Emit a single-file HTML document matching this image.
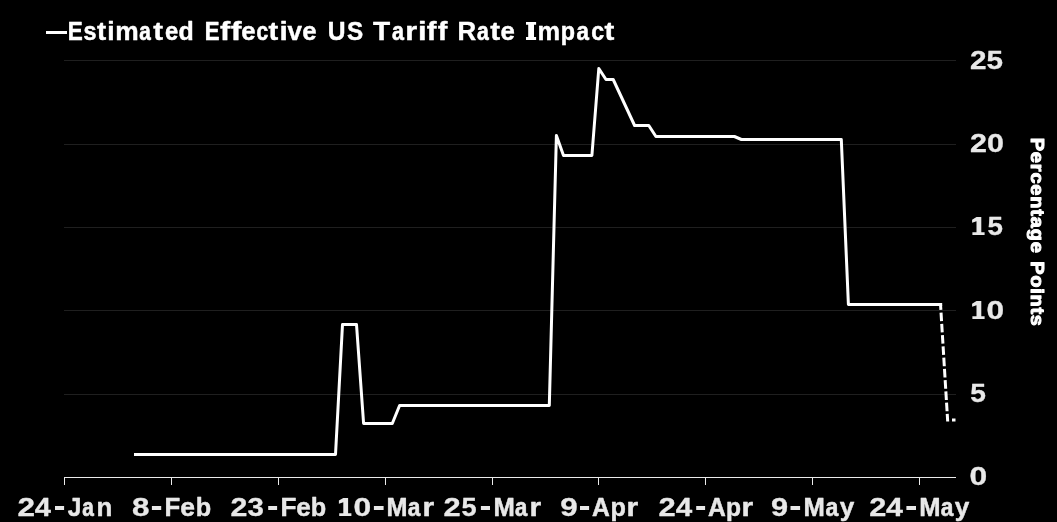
<!DOCTYPE html>
<html lang="en">
<head>
<meta charset="utf-8">
<title>Estimated Effective US Tariff Rate Impact</title>
<style>
html,body{margin:0;padding:0;background:#000;overflow:hidden;}
body{width:1057px;height:522px;font-family:"Liberation Sans",sans-serif;}
svg{display:block;position:absolute;left:0;top:0;filter:grayscale(1);}
text{font-family:"Liberation Sans",sans-serif;font-weight:bold;}
</style>
</head>
<body>
<svg width="1057" height="522" viewBox="0 0 1057 522" role="img" aria-label="Line chart: Estimated Effective US Tariff Rate Impact, in percentage points, 24-Jan to 24-May">
<desc>Estimated Effective US Tariff Rate Impact. Y axis: Percentage Points, 0 to 25. X axis: 24-Jan, 8-Feb, 23-Feb, 10-Mar, 25-Mar, 9-Apr, 24-Apr, 9-May, 24-May. The final segment is a dashed projection.</desc>
<rect x="0" y="0" width="1057" height="522" fill="#000000"/>

<!-- horizontal gridlines -->
<g stroke="#1f1f1f" stroke-width="1" shape-rendering="crispEdges">
<line x1="64" y1="60.5" x2="956" y2="60.5"/>
<line x1="64" y1="144.5" x2="956" y2="144.5"/>
<line x1="64" y1="227.5" x2="956" y2="227.5"/>
<line x1="64" y1="310.5" x2="956" y2="310.5"/>
<line x1="64" y1="394.5" x2="956" y2="394.5"/>
</g>

<!-- x axis and ticks -->
<g stroke="#ebebeb" stroke-width="1" shape-rendering="crispEdges">
<line x1="64" y1="477.5" x2="956" y2="477.5"/>
<line x1="64.5" y1="477" x2="64.5" y2="485"/>
<line x1="171.5" y1="477" x2="171.5" y2="485"/>
<line x1="278.5" y1="477" x2="278.5" y2="485"/>
<line x1="385.5" y1="477" x2="385.5" y2="485"/>
<line x1="492.5" y1="477" x2="492.5" y2="485"/>
<line x1="598.5" y1="477" x2="598.5" y2="485"/>
<line x1="705.5" y1="477" x2="705.5" y2="485"/>
<line x1="812.5" y1="477" x2="812.5" y2="485"/>
<line x1="919.5" y1="477" x2="919.5" y2="485"/>
</g>

<!-- data line -->
<polyline fill="none" stroke="#ffffff" stroke-width="3" stroke-linejoin="round" stroke-linecap="butt"
points="134,454.5 335.5,454.5 342.5,324.5 356.5,324.5 363.6,423.5 392.3,423.5 399.6,405.5 549.3,405.5 556.4,135.5 563.5,155.5 591.9,155.5 598.8,68.5 606,79.5 613.2,79.5 634.6,125.5 648.8,125.5 655.9,136.5 734.4,136.5 741.4,139.5 841.3,139.5 848.4,304.5 942.2,304.5"/>
<!-- projected (dashed) -->
<line x1="940.5" y1="304" x2="947.7" y2="421.5" stroke="#ffffff" stroke-width="3" stroke-dasharray="8.6 2.68" stroke-dashoffset="2.66"/>
<rect x="952" y="418.5" width="3.5" height="3" fill="#ffffff"/>

<!-- legend -->
<rect x="46" y="31" width="21" height="3" fill="#ffffff"/>
<g aria-label="Estimated Effective US Tariff Rate Impact">
<text transform="translate(67.79,39.70) scale(0.8853,1.0000)" font-size="25.4" fill="#ffffff" stroke="#ffffff" stroke-width="0.56" stroke-linejoin="round">E</text>
<text transform="translate(83.52,39.70) scale(0.9211,1.0000)" font-size="25.4" fill="#ffffff" stroke="#ffffff" stroke-width="0.51" stroke-linejoin="round">s</text>
<text transform="translate(96.94,39.70) scale(1.0877,1.0000)" font-size="25.4" fill="#ffffff" stroke="#ffffff" stroke-width="0.4" stroke-linejoin="round">t</text>
<text transform="translate(107.35,39.70) scale(1.0447,1.0000)" font-size="25.4" fill="#ffffff" stroke="#ffffff" stroke-width="0.4" stroke-linejoin="round">i</text>
<text transform="translate(115.19,39.70) scale(1.0388,1.0000)" font-size="25.4" fill="#ffffff" stroke="#ffffff" stroke-width="0.4" stroke-linejoin="round">m</text>
<text transform="translate(139.25,39.70) scale(0.8153,1.0000)" font-size="25.4" fill="#ffffff" stroke="#ffffff" stroke-width="0.66" stroke-linejoin="round">a</text>
<text transform="translate(153.34,39.70) scale(1.1603,1.0000)" font-size="25.4" fill="#ffffff" stroke="#ffffff" stroke-width="0.4" stroke-linejoin="round">t</text>
<text transform="translate(164.88,39.70) scale(0.9383,1.0000)" font-size="25.4" fill="#ffffff" stroke="#ffffff" stroke-width="0.49" stroke-linejoin="round">e</text>
<text transform="translate(178.61,39.70) scale(0.9806,1.0000)" font-size="25.4" fill="#ffffff" stroke="#ffffff" stroke-width="0.43" stroke-linejoin="round">d</text>
<text transform="translate(204.82,39.70) scale(0.8707,1.0000)" font-size="25.4" fill="#ffffff" stroke="#ffffff" stroke-width="0.58" stroke-linejoin="round">E</text>
<text transform="translate(220.08,39.70) scale(1.2078,1.0000)" font-size="25.4" fill="#ffffff" stroke="#ffffff" stroke-width="0.4" stroke-linejoin="round">f</text>
<text transform="translate(230.77,39.70) scale(1.2664,1.0000)" font-size="25.4" fill="#ffffff" stroke="#ffffff" stroke-width="0.4" stroke-linejoin="round">f</text>
<text transform="translate(241.17,39.70) scale(1.0165,1.0000)" font-size="25.4" fill="#ffffff" stroke="#ffffff" stroke-width="0.4" stroke-linejoin="round">e</text>
<text transform="translate(256.53,39.70) scale(0.8257,1.0000)" font-size="25.4" fill="#ffffff" stroke="#ffffff" stroke-width="0.64" stroke-linejoin="round">c</text>
<text transform="translate(268.44,39.70) scale(1.1482,1.0000)" font-size="25.4" fill="#ffffff" stroke="#ffffff" stroke-width="0.4" stroke-linejoin="round">t</text>
<text transform="translate(279.55,39.70) scale(1.1752,1.0000)" font-size="25.4" fill="#ffffff" stroke="#ffffff" stroke-width="0.4" stroke-linejoin="round">i</text>
<text transform="translate(287.47,39.70) scale(1.0251,1.0000)" font-size="25.4" fill="#ffffff" stroke="#ffffff" stroke-width="0.4" stroke-linejoin="round">v</text>
<text transform="translate(302.27,39.70) scale(1.0165,1.0000)" font-size="25.4" fill="#ffffff" stroke="#ffffff" stroke-width="0.4" stroke-linejoin="round">e</text>
<text transform="translate(327.64,39.70) scale(0.9694,1.0000)" font-size="25.4" fill="#ffffff" stroke="#ffffff" stroke-width="0.44" stroke-linejoin="round">U</text>
<text transform="translate(346.89,39.70) scale(0.9554,1.0000)" font-size="25.4" fill="#ffffff" stroke="#ffffff" stroke-width="0.46" stroke-linejoin="round">S</text>
<text transform="translate(372.94,39.70) scale(1.1049,1.0000)" font-size="25.4" fill="#ffffff" stroke="#ffffff" stroke-width="0.4" stroke-linejoin="round">T</text>
<text transform="translate(392.01,39.70) scale(0.8478,1.0000)" font-size="25.4" fill="#ffffff" stroke="#ffffff" stroke-width="0.61" stroke-linejoin="round">a</text>
<text transform="translate(405.35,39.70) scale(1.2086,1.0000)" font-size="25.4" fill="#ffffff" stroke="#ffffff" stroke-width="0.4" stroke-linejoin="round">r</text>
<text transform="translate(417.96,39.70) scale(1.2275,1.0000)" font-size="25.4" fill="#ffffff" stroke="#ffffff" stroke-width="0.4" stroke-linejoin="round">i</text>
<text transform="translate(426.69,39.70) scale(1.1492,1.0000)" font-size="25.4" fill="#ffffff" stroke="#ffffff" stroke-width="0.4" stroke-linejoin="round">f</text>
<text transform="translate(437.79,39.70) scale(1.1374,1.0000)" font-size="25.4" fill="#ffffff" stroke="#ffffff" stroke-width="0.4" stroke-linejoin="round">f</text>
<text transform="translate(457.42,39.70) scale(1.0194,1.0000)" font-size="25.4" fill="#ffffff" stroke="#ffffff" stroke-width="0.4" stroke-linejoin="round">R</text>
<text transform="translate(476.93,39.70) scale(0.8312,1.0000)" font-size="25.4" fill="#ffffff" stroke="#ffffff" stroke-width="0.64" stroke-linejoin="round">a</text>
<text transform="translate(490.24,39.70) scale(1.1603,1.0000)" font-size="25.4" fill="#ffffff" stroke="#ffffff" stroke-width="0.4" stroke-linejoin="round">t</text>
<text transform="translate(500.57,39.70) scale(1.0165,1.0000)" font-size="25.4" fill="#ffffff" stroke="#ffffff" stroke-width="0.4" stroke-linejoin="round">e</text>
<text transform="translate(537.44,39.70) scale(1.0035,1.0000)" font-size="25.4" fill="#ffffff" stroke="#ffffff" stroke-width="0.4" stroke-linejoin="round">m</text>
<text transform="translate(560.77,39.70) scale(0.9185,1.0000)" font-size="25.4" fill="#ffffff" stroke="#ffffff" stroke-width="0.51" stroke-linejoin="round">p</text>
<text transform="translate(576.58,39.70) scale(0.8799,1.0000)" font-size="25.4" fill="#ffffff" stroke="#ffffff" stroke-width="0.57" stroke-linejoin="round">a</text>
<text transform="translate(591.21,39.70) scale(0.9113,1.0000)" font-size="25.4" fill="#ffffff" stroke="#ffffff" stroke-width="0.52" stroke-linejoin="round">c</text>
<text transform="translate(604.54,39.70) scale(1.1603,1.0000)" font-size="25.4" fill="#ffffff" stroke="#ffffff" stroke-width="0.4" stroke-linejoin="round">t</text>
</g>

<!-- y labels -->
<g aria-label="25 20 15 10 5 0">
<text transform="translate(970.04,68.80) scale(1.1725,1.0000)" font-size="25.3" fill="#e8e8e8" stroke="#e8e8e8" stroke-width="0.3" stroke-linejoin="round">25</text>
<text transform="translate(970.01,151.80) scale(1.2044,1.0000)" font-size="25.3" fill="#e8e8e8" stroke="#e8e8e8" stroke-width="0.3" stroke-linejoin="round">20</text>
<text transform="translate(987.53,234.80) scale(1.0965,1.0000)" font-size="25.3" fill="#e8e8e8" stroke="#e8e8e8" stroke-width="0.3" stroke-linejoin="round">5</text>
<text transform="translate(986.52,318.80) scale(1.2503,1.0000)" font-size="25.3" fill="#e8e8e8" stroke="#e8e8e8" stroke-width="0.3" stroke-linejoin="round">0</text>
<text transform="translate(970.22,401.80) scale(1.1120,1.0000)" font-size="25.3" fill="#e8e8e8" stroke="#e8e8e8" stroke-width="0.3" stroke-linejoin="round">5</text>
<text transform="translate(969.52,484.80) scale(1.2584,1.0000)" font-size="25.3" fill="#e8e8e8" stroke="#e8e8e8" stroke-width="0.3" stroke-linejoin="round">0</text>
</g>

<!-- x labels -->
<g aria-label="24-Jan 8-Feb 23-Feb 10-Mar 25-Mar 9-Apr 24-Apr 9-May 24-May">
<text transform="translate(17.58,515.70) scale(1.2456,1.0000)" font-size="25.3" fill="#e8e8e8" stroke="#e8e8e8" stroke-width="0.3" stroke-linejoin="round">2</text>
<text transform="translate(34.74,515.70) scale(1.1492,1.0000)" font-size="25.3" fill="#e8e8e8" stroke="#e8e8e8" stroke-width="0.3" stroke-linejoin="round">4</text>
<rect x="55.00" y="506" width="9.10" height="4" fill="#e8e8e8"/>
<text transform="translate(67.87,515.70) scale(0.9666,1.0000)" font-size="25.3" fill="#e8e8e8" stroke="#e8e8e8" stroke-width="0.5" stroke-linejoin="round">J</text>
<text transform="translate(82.36,515.70) scale(0.8233,1.0000)" font-size="25.3" fill="#e8e8e8" stroke="#e8e8e8" stroke-width="0.7" stroke-linejoin="round">a</text>
<text transform="translate(96.45,515.70) scale(1.0220,1.0000)" font-size="25.3" fill="#e8e8e8" stroke="#e8e8e8" stroke-width="0.45" stroke-linejoin="round">n</text>
<text transform="translate(132.04,515.70) scale(1.2399,1.0000)" font-size="25.3" fill="#e8e8e8" stroke="#e8e8e8" stroke-width="0.3" stroke-linejoin="round">8</text>
<rect x="151.90" y="506" width="9.30" height="4" fill="#e8e8e8"/>
<text transform="translate(164.45,515.70) scale(1.0185,1.0000)" font-size="25.3" fill="#e8e8e8" stroke="#e8e8e8" stroke-width="0.45" stroke-linejoin="round">F</text>
<text transform="translate(180.18,515.70) scale(1.0481,1.0000)" font-size="25.3" fill="#e8e8e8" stroke="#e8e8e8" stroke-width="0.45" stroke-linejoin="round">e</text>
<text transform="translate(195.68,515.70) scale(0.9980,1.0000)" font-size="25.3" fill="#e8e8e8" stroke="#e8e8e8" stroke-width="0.45" stroke-linejoin="round">b</text>
<text transform="translate(230.62,515.70) scale(1.1974,1.0000)" font-size="25.3" fill="#e8e8e8" stroke="#e8e8e8" stroke-width="0.3" stroke-linejoin="round">2</text>
<text transform="translate(247.54,515.70) scale(1.1619,1.0000)" font-size="25.3" fill="#e8e8e8" stroke="#e8e8e8" stroke-width="0.3" stroke-linejoin="round">3</text>
<rect x="268.20" y="506" width="8.90" height="4" fill="#e8e8e8"/>
<text transform="translate(280.43,515.70) scale(1.0335,1.0000)" font-size="25.3" fill="#e8e8e8" stroke="#e8e8e8" stroke-width="0.45" stroke-linejoin="round">F</text>
<text transform="translate(296.29,515.70) scale(1.0322,1.0000)" font-size="25.3" fill="#e8e8e8" stroke="#e8e8e8" stroke-width="0.45" stroke-linejoin="round">e</text>
<text transform="translate(310.68,515.70) scale(0.9980,1.0000)" font-size="25.3" fill="#e8e8e8" stroke="#e8e8e8" stroke-width="0.45" stroke-linejoin="round">b</text>
<text transform="translate(353.42,515.70) scale(1.2584,1.0000)" font-size="25.3" fill="#e8e8e8" stroke="#e8e8e8" stroke-width="0.3" stroke-linejoin="round">0</text>
<rect x="373.90" y="506" width="9.70" height="4" fill="#e8e8e8"/>
<text transform="translate(386.59,515.70) scale(0.9961,1.0000)" font-size="25.3" fill="#e8e8e8" stroke="#e8e8e8" stroke-width="0.46" stroke-linejoin="round">M</text>
<text transform="translate(407.68,515.70) scale(0.8968,1.0000)" font-size="25.3" fill="#e8e8e8" stroke="#e8e8e8" stroke-width="0.59" stroke-linejoin="round">a</text>
<text transform="translate(422.52,515.70) scale(1.1817,1.0000)" font-size="25.3" fill="#e8e8e8" stroke="#e8e8e8" stroke-width="0.45" stroke-linejoin="round">r</text>
<text transform="translate(443.55,515.70) scale(1.2175,1.0000)" font-size="25.3" fill="#e8e8e8" stroke="#e8e8e8" stroke-width="0.3" stroke-linejoin="round">2</text>
<text transform="translate(461.45,515.70) scale(1.0734,1.0000)" font-size="25.3" fill="#e8e8e8" stroke="#e8e8e8" stroke-width="0.3" stroke-linejoin="round">5</text>
<rect x="480.90" y="506" width="9.10" height="4" fill="#e8e8e8"/>
<text transform="translate(493.46,515.70) scale(1.0132,1.0000)" font-size="25.3" fill="#e8e8e8" stroke="#e8e8e8" stroke-width="0.45" stroke-linejoin="round">M</text>
<text transform="translate(514.91,515.70) scale(0.8719,1.0000)" font-size="25.3" fill="#e8e8e8" stroke="#e8e8e8" stroke-width="0.63" stroke-linejoin="round">a</text>
<text transform="translate(529.42,515.70) scale(1.1817,1.0000)" font-size="25.3" fill="#e8e8e8" stroke="#e8e8e8" stroke-width="0.45" stroke-linejoin="round">r</text>
<text transform="translate(560.19,515.70) scale(1.2410,1.0000)" font-size="25.3" fill="#e8e8e8" stroke="#e8e8e8" stroke-width="0.3" stroke-linejoin="round">9</text>
<rect x="580.00" y="506" width="9.10" height="4" fill="#e8e8e8"/>
<text transform="translate(591.92,515.70) scale(0.9747,1.0000)" font-size="25.3" fill="#e8e8e8" stroke="#e8e8e8" stroke-width="0.49" stroke-linejoin="round">A</text>
<text transform="translate(610.48,515.70) scale(0.9980,1.0000)" font-size="25.3" fill="#e8e8e8" stroke="#e8e8e8" stroke-width="0.45" stroke-linejoin="round">p</text>
<text transform="translate(626.52,515.70) scale(1.1817,1.0000)" font-size="25.3" fill="#e8e8e8" stroke="#e8e8e8" stroke-width="0.45" stroke-linejoin="round">r</text>
<text transform="translate(658.60,515.70) scale(1.2215,1.0000)" font-size="25.3" fill="#e8e8e8" stroke="#e8e8e8" stroke-width="0.3" stroke-linejoin="round">2</text>
<text transform="translate(675.63,515.70) scale(1.1709,1.0000)" font-size="25.3" fill="#e8e8e8" stroke="#e8e8e8" stroke-width="0.3" stroke-linejoin="round">4</text>
<rect x="696.20" y="506" width="8.90" height="4" fill="#e8e8e8"/>
<text transform="translate(707.92,515.70) scale(0.9747,1.0000)" font-size="25.3" fill="#e8e8e8" stroke="#e8e8e8" stroke-width="0.49" stroke-linejoin="round">A</text>
<text transform="translate(725.94,515.70) scale(0.9724,1.0000)" font-size="25.3" fill="#e8e8e8" stroke="#e8e8e8" stroke-width="0.49" stroke-linejoin="round">p</text>
<text transform="translate(741.42,515.70) scale(1.1817,1.0000)" font-size="25.3" fill="#e8e8e8" stroke="#e8e8e8" stroke-width="0.45" stroke-linejoin="round">r</text>
<text transform="translate(771.10,515.70) scale(1.2171,1.0000)" font-size="25.3" fill="#e8e8e8" stroke="#e8e8e8" stroke-width="0.3" stroke-linejoin="round">9</text>
<rect x="790.50" y="506" width="9.60" height="4" fill="#e8e8e8"/>
<text transform="translate(803.46,515.70) scale(1.0132,1.0000)" font-size="25.3" fill="#e8e8e8" stroke="#e8e8e8" stroke-width="0.45" stroke-linejoin="round">M</text>
<text transform="translate(825.47,515.70) scale(0.9129,1.0000)" font-size="25.3" fill="#e8e8e8" stroke="#e8e8e8" stroke-width="0.57" stroke-linejoin="round">a</text>
<text transform="translate(839.67,515.70) scale(1.0346,1.0000)" font-size="25.3" fill="#e8e8e8" stroke="#e8e8e8" stroke-width="0.45" stroke-linejoin="round">y</text>
<text transform="translate(869.31,515.70) scale(1.2134,1.0000)" font-size="25.3" fill="#e8e8e8" stroke="#e8e8e8" stroke-width="0.3" stroke-linejoin="round">2</text>
<text transform="translate(886.12,515.70) scale(1.1998,1.0000)" font-size="25.3" fill="#e8e8e8" stroke="#e8e8e8" stroke-width="0.3" stroke-linejoin="round">4</text>
<rect x="906.40" y="506" width="9.60" height="4" fill="#e8e8e8"/>
<text transform="translate(919.32,515.70) scale(1.0105,1.0000)" font-size="25.3" fill="#e8e8e8" stroke="#e8e8e8" stroke-width="0.45" stroke-linejoin="round">M</text>
<text transform="translate(940.68,515.70) scale(0.8968,1.0000)" font-size="25.3" fill="#e8e8e8" stroke="#e8e8e8" stroke-width="0.59" stroke-linejoin="round">a</text>
<text transform="translate(954.67,515.70) scale(1.0346,1.0000)" font-size="25.3" fill="#e8e8e8" stroke="#e8e8e8" stroke-width="0.45" stroke-linejoin="round">y</text>
</g>

<!-- custom glyphs -->
<g>
<path transform="translate(972.10,235.00)" d="M4.4,-18 L9.2,-18 L9.2,-2.7 L12.5,-2.7 L12.5,0 L0.3,0 L0.3,-2.7 L4.4,-2.7 L4.4,-13.7 L0,-12.2 L0,-15.3 Z" fill="#e8e8e8"/>
<path transform="translate(972.10,319.00)" d="M4.4,-18 L9.2,-18 L9.2,-2.7 L12.5,-2.7 L12.5,0 L0.3,0 L0.3,-2.7 L4.4,-2.7 L4.4,-13.7 L0,-12.2 L0,-15.3 Z" fill="#e8e8e8"/>
<path transform="translate(338.90,515.90)" d="M4.4,-18 L9.2,-18 L9.2,-2.7 L12.5,-2.7 L12.5,0 L0.3,0 L0.3,-2.7 L4.4,-2.7 L4.4,-13.7 L0,-12.2 L0,-15.3 Z" fill="#e8e8e8"/>
<path d="M526,22 H536.1 V24.8 H534 V37.1 H536.1 V39.9 H526 V37.1 H528.2 V24.8 H526 Z" fill="#ffffff"/>
</g>

<!-- rotated y title -->
<g aria-label="Percentage Points">
<text transform="translate(1030.60,137.63) rotate(90) scale(1.0500,1.0000)" font-size="19.0" fill="#ffffff" stroke="#ffffff" stroke-width="1.0" stroke-linejoin="round" letter-spacing="0.827">Percentage</text>
<text transform="translate(1030.60,261.23) rotate(90) scale(1.0500,1.0000)" font-size="19.0" fill="#ffffff" stroke="#ffffff" stroke-width="1.0" stroke-linejoin="round" letter-spacing="0.704">Points</text>
</g>
</svg>
</body>
</html>
